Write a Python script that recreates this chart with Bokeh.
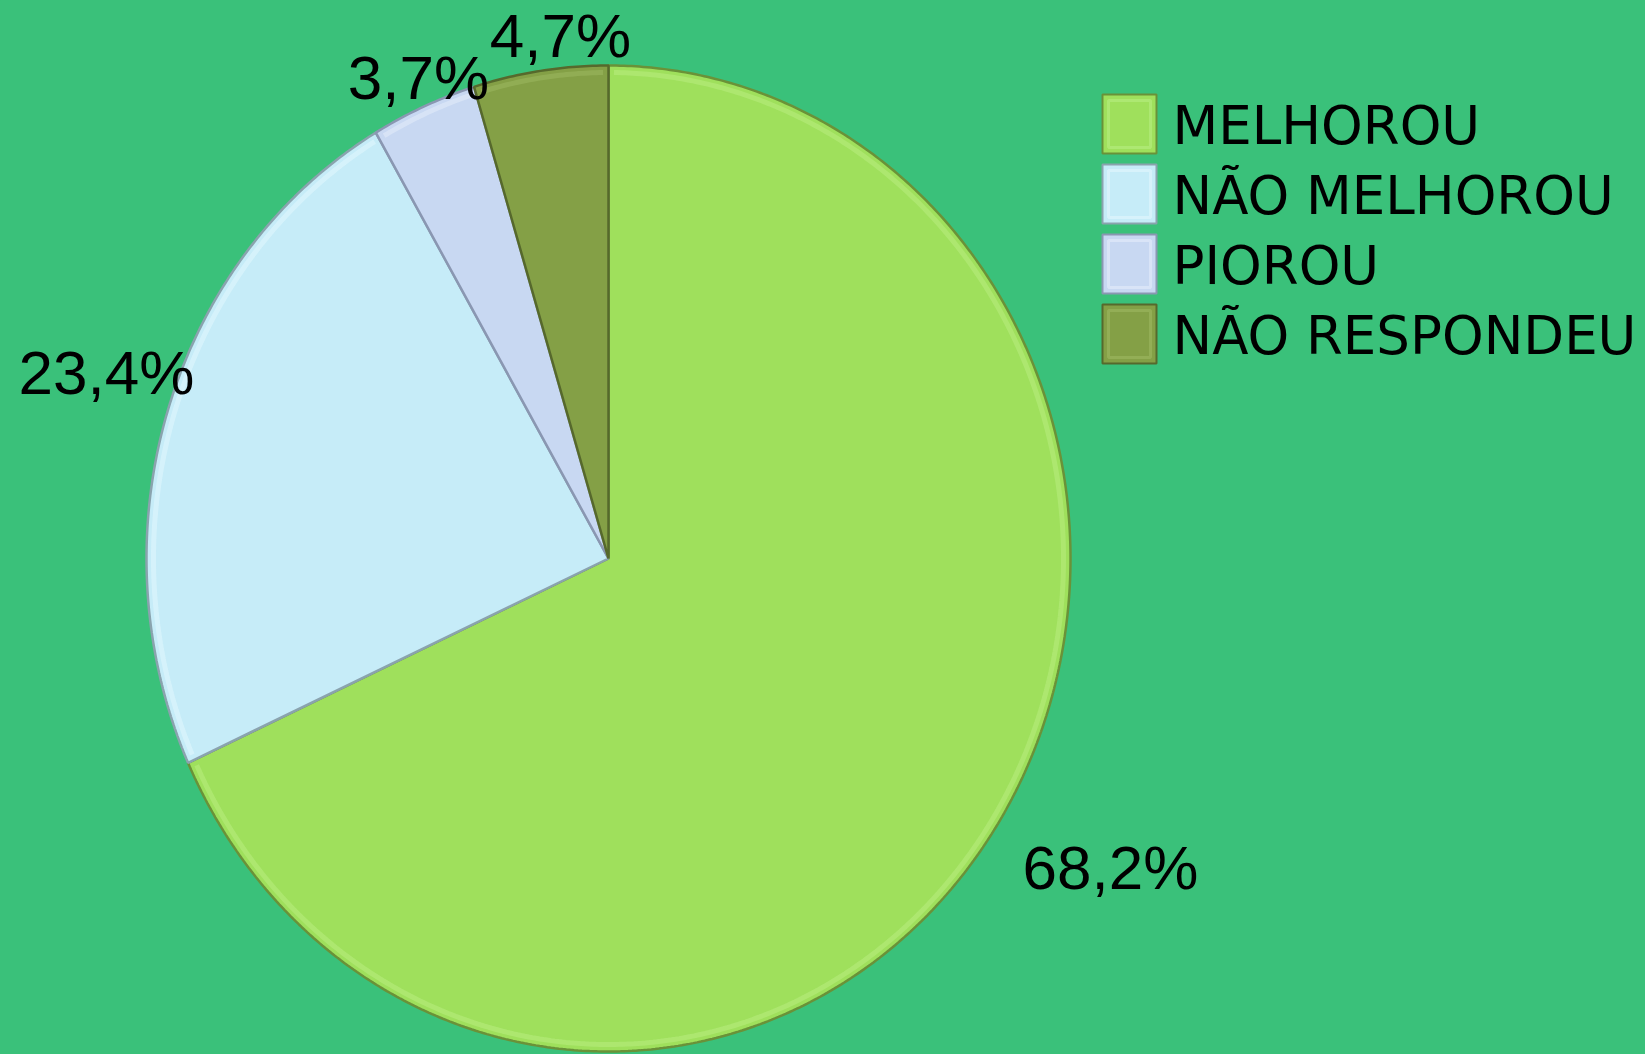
import numpy as np
from bokeh.plotting import figure
from bokeh.models import Range1d, ColumnDataSource
from bokeh.core.properties import value
from bokeh.embed import file_html
from bokeh.resources import INLINE

# ---- data ----
categories = ["MELHOROU", "NÃO MELHOROU", "PIOROU", "NÃO RESPONDEU"]
values = [68.2, 23.4, 3.7, 4.7]
labels = ["68,2%", "23,4%", "3,7%", "4,7%"]

# ---- styles / layout ----
colors = ["#9FE05C", "#C6ECF8", "#C8D8F2", "#84A046"]
edge_colors = ["#6A9238", "#8AA3AE", "#8A97B2", "#56692C"]
hi_colors = ["#B8EC80", "#E2F7FD", "#E4ECFA", "#9CB860"]
bg = "#3AC17A"
W, H = 1645, 1054
cx, cy, rx, ry = 608, 558, 462, 493

p = figure(width=W, height=H, output_backend="svg", toolbar_location=None,
           x_range=Range1d(0, W), y_range=Range1d(H, 0),
           min_border=0, background_fill_color=bg, border_fill_color=bg)
p.axis.visible = False
p.grid.visible = False
p.outline_line_color = None

# pie wedges computed from values, clockwise from top
fr = np.array(values) / sum(values)
ends = np.cumsum(fr) * 2 * np.pi
starts = ends - fr * 2 * np.pi


def wedge_poly(s, e, sx, sy):
    t = np.linspace(s, e, max(int((e - s) * 120), 8))
    xs = list(np.concatenate([[cx], cx + sx * np.sin(t), [cx]]))
    ys = list(np.concatenate([[cy], cy - sy * np.cos(t), [cy]]))
    return xs, ys


xs, ys, ixs, iys = [], [], [], []
for s, e in zip(starts, ends):
    a, b = wedge_poly(s, e, rx, ry)
    xs.append(a); ys.append(b)
    t = np.linspace(s + 0.012, e - 0.012, max(int((e - s) * 120), 8))
    ixs.append(list(cx + (rx - 7) * np.sin(t)))
    iys.append(list(cy - (ry - 7) * np.cos(t)))

src = ColumnDataSource(dict(xs=xs, ys=ys, fill=colors, edge=edge_colors, cat=categories))
p.patches("xs", "ys", source=src, fill_color="fill", line_color="edge", line_width=2.5)
# soft bevel highlight along the rim
p.multi_line(ixs, iys, line_color=hi_colors, line_width=5, line_alpha=0.55)

# data labels
lab_x = [1110, 106, 418, 560]
lab_y = [867, 372, 77, 35]
p.text(x=lab_x, y=lab_y, text=labels, text_font=value("Liberation Sans"),
       text_font_size="62px", text_align="center", text_baseline="alphabetic",
       text_color="black")

# legend
leg_y = [123.5, 193.5, 263.5, 333.5]
p.rect(x=[1129] * 4, y=leg_y, width=54, height=59, fill_color=colors,
       line_color=edge_colors, line_width=2)
p.rect(x=[1129] * 4, y=leg_y, width=42, height=47, fill_color=None,
       line_color=hi_colors, line_width=3, line_alpha=0.6)
p.text(x=[1172] * 4, y=[v + 1.2 for v in leg_y], text=categories,
       text_font=value("DejaVu Sans"), text_font_size="53px",
       text_align="left", text_baseline="alphabetic", text_color="black")

html = file_html(p, INLINE)
html = html.replace("<body>", '<body style="background:%s">' % bg, 1)
html = html.replace("<html", '<html style="background:%s"' % bg, 1)
open("out.html", "w").write(html)
